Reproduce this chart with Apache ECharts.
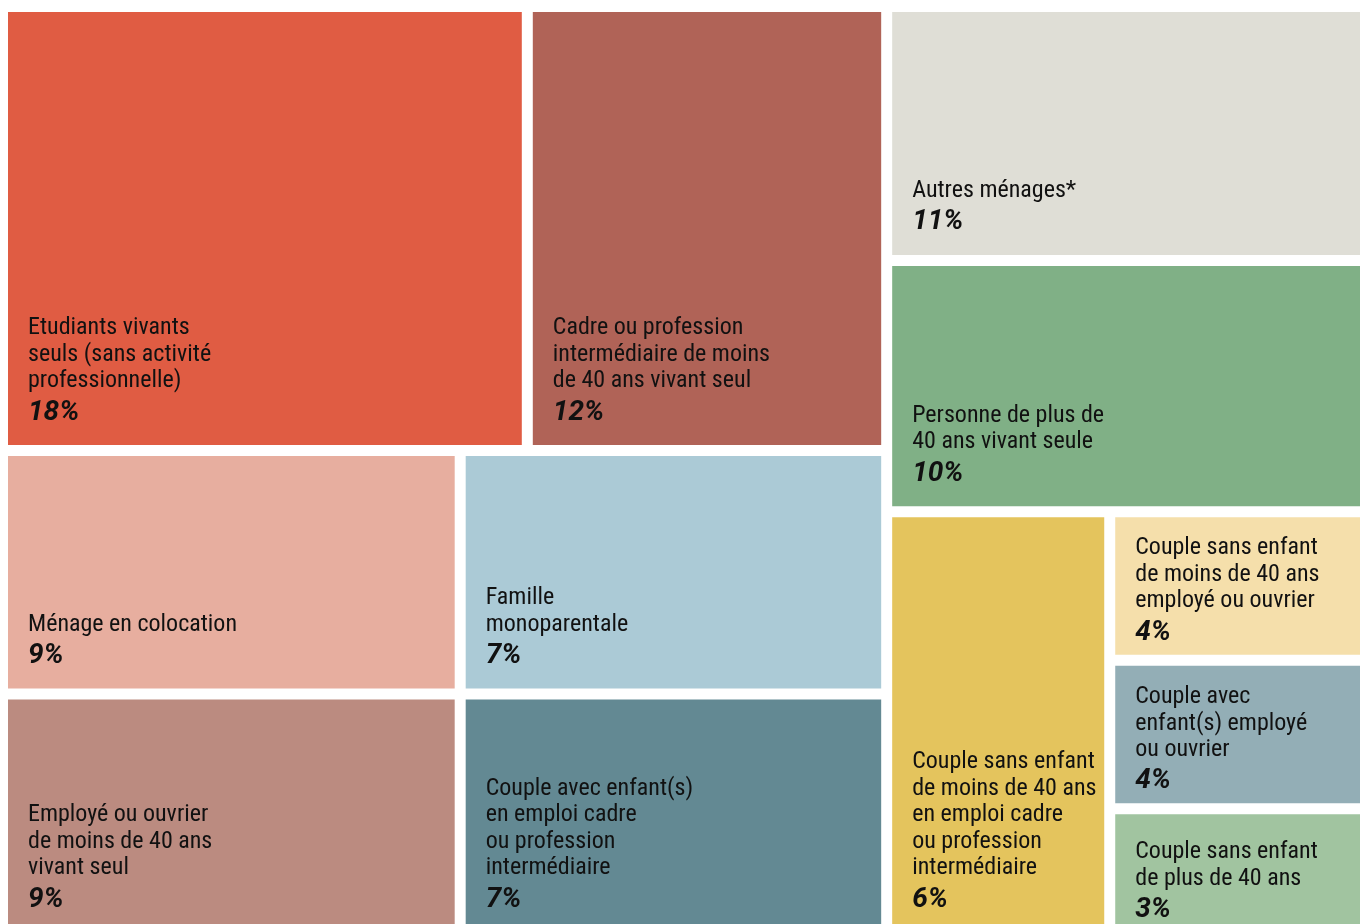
<!DOCTYPE html>
<html>
<head>
<meta charset="utf-8">
<script src="https://cdn.jsdelivr.net/npm/echarts@6/dist/echarts.min.js"></script>
<style>
  html, body { margin: 0; padding: 0; background: #fff; }
  #chart { width: 1360px; height: 924px; }
</style>
</head>
<body>
<div id="chart"></div>
<script>
// household types, in reading order
const labels = [
  "Etudiants vivants\nseuls (sans activité\nprofessionnelle)",
  "Cadre ou profession\nintermédiaire de moins\nde 40 ans vivant seul",
  "Autres ménages*",
  "Personne de plus de\n40 ans vivant seule",
  "Ménage en colocation",
  "Famille\nmonoparentale",
  "Employé ou ouvrier\nde moins de 40 ans\nvivant seul",
  "Couple avec enfant(s)\nen emploi cadre\nou profession\nintermédiaire",
  "Couple sans enfant\nde moins de 40 ans\nen emploi cadre\nou profession\nintermédiaire",
  "Couple sans enfant\nde moins de 40 ans\nemployé ou ouvrier",
  "Couple avec\nenfant(s) employé\nou ouvrier",
  "Couple sans enfant\nde plus de 40 ans"
];
// printed share (%)
const shares = [18, 12, 11, 10, 9, 7, 9, 7, 6, 4, 4, 3];
// relative block areas as drawn in the picture
const weights = [18.4, 12.6, 9.6, 9.5, 8.8, 8.2, 8.8, 8.2, 7.5, 3.0, 3.0, 2.6];
// how the blocks are grouped (indices into the arrays above)
const groups = [[[0, 1], [[4, 6], [5, 7]]], [2, 3, [8, [9, 10, 11]]]];

const colors = [
  "#E05C43", "#B06357", "#DFDED6", "#80B086", "#E7AE9F", "#ABCAD6",
  "#BB8B80", "#638993", "#E4C45D", "#F5DFAB", "#93AEB6", "#A1C4A0"
];

const nameFont = '"Roboto Condensed", "Liberation Sans Narrow", "DejaVu Sans Condensed", Roboto, sans-serif';
const pctFont = 'Roboto, "Noto Sans", sans-serif';
const nameLine = 26.5;
const pctLine = 36;

function buildNode(g) {
  if (typeof g === "number") {
    return {
      name: labels[g],
      value: weights[g],
      share: shares[g],
      itemStyle: { color: colors[g] }
    };
  }
  return { name: "", children: g.map(buildNode) };
}

// push each label down so it sits at the bottom-left of its block
function placeLabel(p) {
  let nLines = String(p.text).split("\n").length;
  let textH = (nLines - 1) * nameLine + pctLine;
  let bottom = p.rect.height < 160 ? 9 : 19.5;
  return { dx: 15, dy: Math.max(p.rect.height - textH - bottom, 4) };
}

let chart = echarts.init(document.getElementById("chart"), null, { renderer: "canvas" });

let option = {
  animation: false,
  series: [
    {
      type: "treemap",
      left: 8,
      top: 12,
      width: 1352,
      height: 920,
      sort: false,
      squareRatio: 1,
      roam: false,
      nodeClick: false,
      breadcrumb: { show: false },
      itemStyle: {
        gapWidth: 11,
        borderWidth: 0,
        borderColor: "#fff"
      },
      label: {
        show: true,
        position: "insideTopLeft",
        distance: 0,
        overflow: "none",
        formatter: (p) => "{n|" + p.name + "}\n{p|" + p.data.share + "%}",
        rich: {
          n: { fontFamily: nameFont, fontSize: 24, lineHeight: nameLine, color: "#111" },
          p: { fontFamily: pctFont, fontSize: 28, lineHeight: pctLine, fontWeight: "bold", fontStyle: "italic", color: "#111" }
        }
      },
      labelLayout: placeLabel,
      data: groups.map(buildNode)
    }
  ]
};

chart.setOption(option);
</script>
</body>
</html>
